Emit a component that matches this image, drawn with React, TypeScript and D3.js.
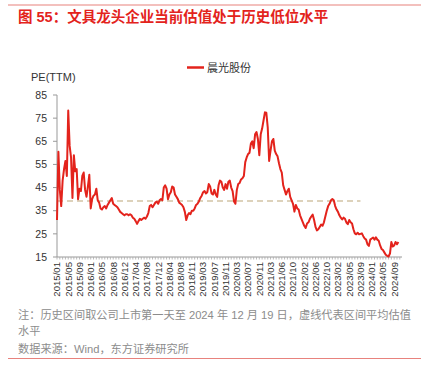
import React from "react";
import * as d3 from "d3";

const title = "图 55：文具龙头企业当前估值处于历史低位水平";
const seriesName = "晨光股份";
const yAxisTitle = "PE(TTM)";
const yTicks = [15, 25, 35, 45, 55, 65, 75, 85];
const xLabels = [
  "2015/01", "2015/05", "2015/09", "2016/01", "2016/05", "2016/08", "2016/12", "2017/04",
  "2017/08", "2017/12", "2018/04", "2018/08", "2018/11", "2019/03", "2019/07", "2019/11",
  "2020/03", "2020/07", "2020/11", "2021/03", "2021/06", "2021/10", "2022/02", "2022/06",
  "2022/10", "2023/02", "2023/05", "2023/09", "2024/01", "2024/05", "2024/09",
];
// PE(TTM) sampled roughly every 10 trading days (8 samples per x label)
const peValues = [
  31, 60.5, 44, 37, 48, 53, 56.5, 50, 78.3, 63,
  58, 40.5, 59, 52, 53, 40, 44.5, 43.5, 50, 51.5,
  44, 41, 45.5, 50.5, 36, 40, 41.5, 42, 44.5, 39.5,
  38.5, 36, 35.5, 36.5, 37, 36, 37.5, 38.5, 39.5, 40.5,
  38, 37.5, 37, 36.5, 35.5, 34.5, 34, 33.5, 33, 33.5,
  33.5, 33, 33.5, 33, 32, 31.5, 30.5, 29.3, 30.5, 31.5,
  31, 31.5, 32, 31.5, 32.5, 34, 37, 37.5, 36.5, 37.5,
  38.5, 39, 38, 39.5, 40, 39.5, 45, 46, 44.5, 40,
  42, 43, 45.5, 45, 42, 41, 40, 38.5, 38, 37.5,
  36.5, 34.5, 31, 33, 34, 33.5, 35, 35, 36, 37.5,
  38, 39, 40.5, 41.5, 43, 43.5, 42.5, 43, 46.5, 45.5,
  42.5, 42, 44, 42, 41, 46, 48, 47.5, 45, 44,
  46.5, 44.5, 47.5, 48, 45, 43.5, 39, 38, 44, 46.5,
  47, 48.5, 49, 50, 56, 58, 59.5, 60, 64, 65,
  62, 68, 69, 66, 59, 68, 70.5, 74, 77.5, 77.3,
  71, 56.5, 61, 65, 66, 61, 59.5, 58.5, 55.5, 53,
  51.5, 46, 44, 42, 43.5, 44.5, 41, 39.5, 38, 34.6,
  37.5, 36, 35.5, 33, 31.5, 30, 28.5, 27.5, 29.5, 30,
  31.5, 32.5, 33.3, 31, 28, 26.5, 27, 28, 29, 28.5,
  30, 32.5, 35, 37, 38, 39.5, 40, 39.5, 37, 35.5,
  34.5, 33, 32, 31.2, 32, 31.5, 29.9, 29.2, 31, 30,
  29.5, 27, 25.2, 24.8, 25.5, 24.8, 25, 25.2, 24, 23,
  22.5, 20.5, 19.8, 22.5, 23, 23.4, 22.5, 23.5, 22.5, 22,
  20, 18.5, 18, 17, 16, 15.5, 15.2, 16.5, 21.5, 19.5,
  20, 21.5, 20.5, 21.5,
];
const averagePE = 39.2;
const averageEndLabel = "2023/09";
const note1 = "注：历史区间取公司上市第一天至 2024 年 12 月 19 日，虚线代表区间平均估值";
const note2 = "水平";
const source = "数据来源：Wind，东方证券研究所";

const STEPS_PER_LABEL = 8;
const FONT = "'Liberation Sans', Arial, 'Noto Sans CJK SC', sans-serif";

export default function App() {
  const W = 426, H = 375;
  const left = 57, right = 401.2, top = 95, bottom = 257;
  const nSteps = 245;
  const x = d3.scaleLinear().domain([0, nSteps]).range([left, right]);
  const y = d3.scaleLinear().domain([15, 85]).range([bottom, top]);
  const line = d3
    .line<number>()
    .x((_, i) => x(i))
    .y((d) => y(d));
  const avgEnd = xLabels.indexOf(averageEndLabel) * STEPS_PER_LABEL;
  const minorTicks = d3.range(0, nSteps + 1, 2);

  return (
    <svg
      width={W}
      height={H}
      style={{ position: "absolute", left: 0, top: 0, background: "#fff" }}
      fontFamily={FONT}
    >
      <line x1={8} x2={421} y1={5} y2={5} stroke="#e8827d" strokeWidth={1.2} />
      <text x={18} y={22} fontSize={14.5} fontWeight="bold" fill="#e3231c">
        {title}
      </text>

      {/* legend */}
      <line x1={187} x2={204} y1={67.5} y2={67.5} stroke="#e3231c" strokeWidth={2.5} />
      <text x={207} y={71.5} fontSize={11} fill="#333">
        {seriesName}
      </text>
      <text x={31} y={80.5} fontSize={11} fill="#333">
        {yAxisTitle}
      </text>

      {/* y axis */}
      <line x1={left} x2={left} y1={top} y2={bottom} stroke="#999" strokeWidth={1} />
      {yTicks.map((t) => (
        <g key={t}>
          <line x1={left - 4} x2={left} y1={y(t)} y2={y(t)} stroke="#999" />
          <text x={47} y={y(t)} dy="0.35em" textAnchor="end" fontSize={10.5} fill="#333">
            {t}
          </text>
        </g>
      ))}

      {/* x axis */}
      <line x1={left} x2={402} y1={bottom} y2={bottom} stroke="#999" strokeWidth={1} />
      {minorTicks.map((t) => (
        <line key={t} x1={x(t)} x2={x(t)} y1={bottom} y2={bottom + 2.5} stroke="#aaa" strokeWidth={0.8} />
      ))}
      {xLabels.map((lab, k) => {
        const px = x(k * STEPS_PER_LABEL);
        return (
          <text
            key={lab}
            transform={`translate(${px},262) rotate(-90)`}
            dy="0.35em"
            textAnchor="end"
            fontSize={9.6}
            fill="#333"
          >
            {lab}
          </text>
        );
      })}

      {/* average dashed line */}
      <line
        x1={x(0)}
        x2={x(avgEnd)}
        y1={y(averagePE)}
        y2={y(averagePE)}
        stroke="#ddd2bb"
        strokeWidth={2}
        strokeDasharray="6,4"
      />

      {/* series */}
      <path
        d={line(peValues) || ""}
        fill="none"
        stroke="#e3231c"
        strokeWidth={2}
        strokeLinejoin="round"
      />

      {/* notes */}
      <text x={18} y={319} fontSize={11.2} fill="#8c8c8c">
        {note1}
      </text>
      <text x={18} y={335} fontSize={11.2} fill="#8c8c8c">
        {note2}
      </text>
      <text x={18} y={353} fontSize={11.2} fill="#8c8c8c">
        {source}
      </text>
      <line x1={8} x2={421} y1={358.5} y2={358.5} stroke="#e8827d" strokeWidth={1.2} />
    </svg>
  );
}
